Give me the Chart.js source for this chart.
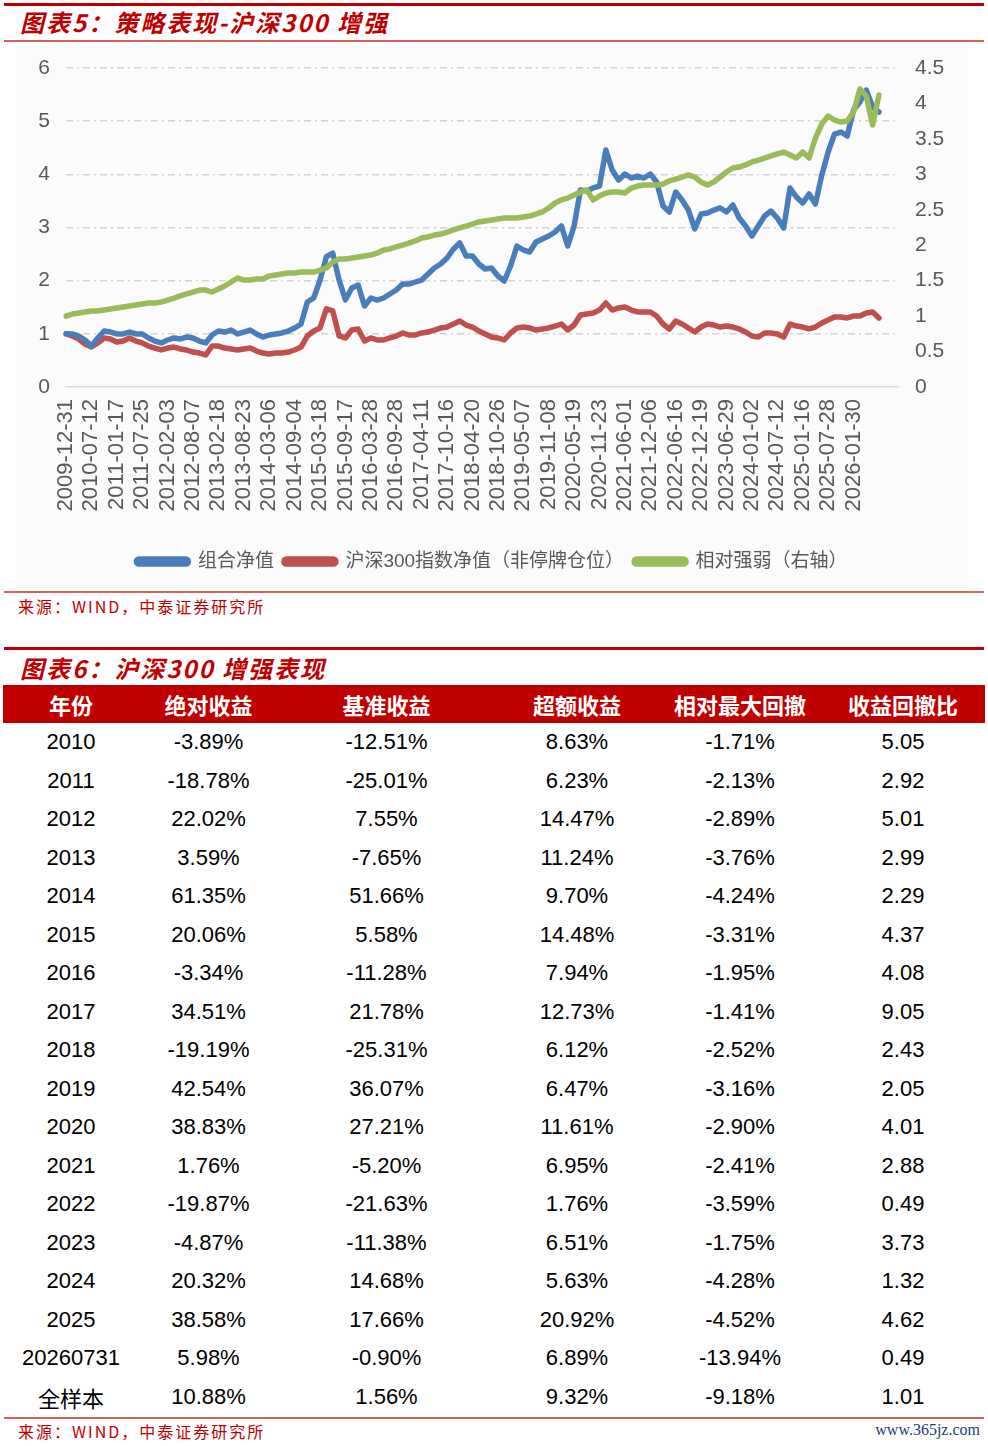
<!DOCTYPE html>
<html>
<head>
<meta charset="utf-8">
<script src="https://cdn.jsdelivr.net/npm/chart.js@4.4.1/dist/chart.umd.min.js"></script>
<style>
body { margin:0; background:#fff; font-family:'Liberation Sans','Noto Sans CJK SC',sans-serif; }
#pagina { position:relative; width:988px; height:1446px; overflow:hidden; }
.linea { position:absolute; left:4px; width:980px; }
.gruesa { height:3px; background:#c00000; }
.fina { height:2px; background:#d9605c; }
.titulo { position:absolute; left:20px; font-family:'Noto Sans CJK SC',sans-serif; font-weight:bold; font-style:italic; font-size:24px; color:#c00000; letter-spacing:2px; }
.fuente { position:absolute; left:18px; font-family:'Noto Sans CJK SC',sans-serif; font-size:16px; color:#c00000; letter-spacing:2px; }
#caja { position:absolute; left:16px; top:45px; width:952px; height:545px; background:#fbfbfb; }
#tabla { position:absolute; left:3px; top:685px; border-collapse:collapse; table-layout:fixed; }
#tabla th { background:#c00000; color:#fff; font-family:'Noto Sans CJK SC',sans-serif; font-weight:bold; font-size:22px; height:38px; padding:0; text-align:center; }
#tabla td { font-size:22px; color:#000; height:38.5px; padding:0; text-align:center; }
</style>
</head>
<body>
<div id="pagina">
  <div class="linea gruesa" style="top:3px"></div>
  <div class="titulo" style="top:4px">图表5：策略表现-沪深300 增强</div>
  <div class="linea fina" style="top:40px"></div>
  <div id="caja"><canvas id="myChart" width="952" height="545"></canvas></div>
  <div class="linea fina" style="top:591px"></div>
  <div class="fuente" style="top:594px">来源：WIND，中泰证券研究所</div>
  <div class="linea gruesa" style="top:647px"></div>
  <div class="titulo" style="top:650px">图表6：沪深300 增强表现</div>
  <table id="tabla"></table>
  <div class="linea fina" style="top:1417px"></div>
  <div class="fuente" style="top:1419px">来源：WIND，中泰证券研究所</div>
  <div style="position:absolute; right:8px; top:1421px; font-family:'Liberation Serif',serif; font-size:16px; color:#1f3a7a;">www.365jz.com</div>
</div>
<script>
//-----------------DATOS------------------
var tickDates = ['2009-12-31','2010-07-12','2011-01-17','2011-07-25','2012-02-03','2012-08-07','2013-02-18','2013-08-23',
    '2014-03-06','2014-09-04','2015-03-18','2015-09-17','2016-03-28','2016-09-28','2017-04-11','2017-10-16',
    '2018-04-20','2018-10-26','2019-05-07','2019-11-08','2020-05-19','2020-11-23','2021-06-01','2021-12-06',
    '2022-06-16','2022-12-19','2023-06-29','2024-01-02','2024-07-12','2025-01-16','2025-07-28','2026-01-30']

// 组合净值 (left axis)
var portfolio = [1.000,0.997,0.959,0.884,0.771,0.922,1.053,1.034,0.997,0.997,
    1.034,0.997,0.997,0.922,0.865,0.828,0.884,0.922,0.903,0.940,
    0.922,0.865,0.828,0.978,1.053,1.034,1.072,0.997,1.034,1.072,
    0.997,0.940,0.978,0.997,1.016,1.053,1.110,1.185,1.599,1.674,
    2.012,2.450,2.520,2.010,1.640,1.862,1.918,1.523,1.674,1.636,
    1.674,1.749,1.824,1.937,1.937,1.975,2.012,2.125,2.238,2.313,
    2.426,2.595,2.708,2.464,2.464,2.313,2.219,2.238,2.088,1.994,
    2.276,2.652,2.577,2.539,2.727,2.784,2.840,2.915,3.028,2.652,
    3.028,3.705,3.686,3.743,3.780,4.457,4.081,3.893,4.006,3.931,
    3.968,3.931,4.006,3.856,3.404,3.291,3.667,3.517,3.329,2.972,
    3.254,3.273,3.329,3.367,3.291,3.423,3.178,3.028,2.840,3.028,
    3.216,3.310,3.178,2.990,3.743,3.573,3.461,3.630,3.442,3.987,
    4.420,4.758,4.796,4.721,5.210,5.360,5.586,5.266,5.172]

// 沪深300指数净值 (left axis)
var benchmark = [1.000,0.959,0.903,0.809,0.752,0.828,0.922,0.903,0.846,0.865,
    0.922,0.865,0.828,0.771,0.733,0.696,0.733,0.752,0.715,0.696,
    0.658,0.639,0.602,0.771,0.771,0.733,0.715,0.696,0.715,0.733,
    0.677,0.639,0.621,0.639,0.639,0.658,0.696,0.752,0.959,1.053,
    1.110,1.470,1.430,0.960,0.922,1.072,1.091,0.865,0.922,0.884,
    0.884,0.922,0.959,1.016,0.978,0.978,1.016,1.034,1.072,1.110,
    1.128,1.185,1.241,1.166,1.128,1.053,0.997,0.940,0.922,0.884,
    1.016,1.110,1.128,1.110,1.072,1.091,1.110,1.147,1.185,1.072,
    1.166,1.354,1.373,1.392,1.448,1.580,1.448,1.486,1.505,1.448,
    1.411,1.411,1.411,1.335,1.185,1.091,1.241,1.185,1.110,1.034,
    1.128,1.185,1.166,1.128,1.147,1.128,1.091,1.034,0.959,0.940,
    1.016,1.016,0.997,0.940,1.185,1.147,1.128,1.091,1.128,1.204,
    1.260,1.317,1.317,1.298,1.335,1.335,1.392,1.411,1.298]

// 相对强弱 (right axis)
var relative = [1.000,1.030,1.044,1.058,1.072,1.072,1.086,1.100,1.114,1.129,
    1.143,1.157,1.171,1.185,1.185,1.199,1.227,1.255,1.284,1.312,
    1.340,1.368,1.368,1.340,1.382,1.425,1.481,1.538,1.509,1.509,
    1.523,1.523,1.566,1.580,1.594,1.608,1.608,1.622,1.622,1.622,
    1.650,1.679,1.763,1.806,1.806,1.820,1.834,1.848,1.862,1.890,
    1.933,1.947,1.975,2.003,2.031,2.060,2.102,2.116,2.144,2.158,
    2.186,2.215,2.243,2.271,2.299,2.328,2.342,2.356,2.370,2.384,
    2.384,2.384,2.398,2.412,2.440,2.469,2.525,2.596,2.638,2.666,
    2.708,2.751,2.779,2.638,2.694,2.737,2.751,2.751,2.737,2.807,
    2.835,2.850,2.850,2.850,2.864,2.906,2.934,2.962,2.991,2.962,
    2.892,2.850,2.892,2.962,3.033,3.089,3.103,3.132,3.174,3.202,
    3.230,3.259,3.287,3.315,3.273,3.230,3.315,3.230,3.512,3.710,
    3.823,3.766,3.738,3.752,3.879,4.204,4.105,3.696,4.119]

var seriesNames = ['组合净值','沪深300指数净值（非停牌仓位）','相对强弱（右轴）']

// tabla 6
var headers = ['年份','绝对收益','基准收益','超额收益','相对最大回撤','收益回撤比']
var years = ['2010','2011','2012','2013','2014','2015','2016','2017','2018','2019','2020','2021','2022','2023','2024','2025','20260731','全样本']
var absRet = ['-3.89%','-18.78%','22.02%','3.59%','61.35%','20.06%','-3.34%','34.51%','-19.19%','42.54%','38.83%','1.76%','-19.87%','-4.87%','20.32%','38.58%','5.98%','10.88%']
var benchRet = ['-12.51%','-25.01%','7.55%','-7.65%','51.66%','5.58%','-11.28%','21.78%','-25.31%','36.07%','27.21%','-5.20%','-21.63%','-11.38%','14.68%','17.66%','-0.90%','1.56%']
var excessRet = ['8.63%','6.23%','14.47%','11.24%','9.70%','14.48%','7.94%','12.73%','6.12%','6.47%','11.61%','6.95%','1.76%','6.51%','5.63%','20.92%','6.89%','9.32%']
var maxDD = ['-1.71%','-2.13%','-2.89%','-3.76%','-4.24%','-3.31%','-1.95%','-1.41%','-2.52%','-3.16%','-2.90%','-2.41%','-3.59%','-1.75%','-4.28%','-4.52%','-13.94%','-9.18%']
var ratio = ['5.05','2.92','5.01','2.99','2.29','4.37','4.08','9.05','2.43','2.05','4.01','2.88','0.49','3.73','1.32','4.62','0.49','1.01']
//-----------------FIN DATOS------------------

//-----------------FUNCIONES------------------
function build_labels(total){
    // one sample every quarter of a tick interval, tick text every 4th point
    var labels = []
    for (var i = 0; i < total; i++) {
        if (i % 4 == 0 && i / 4 < tickDates.length) {
            labels.push(tickDates[i / 4])
        } else {
            labels.push('')
        }
    }
    return labels
}

function build_table(){
    var tabla = document.getElementById('tabla')
    var widths = [136, 139, 217, 164, 162, 164]
    var html = '<colgroup>'
    for (var w = 0; w < widths.length; w++) html += '<col style="width:' + widths[w] + 'px">'
    html += '</colgroup><tr>'
    for (var h = 0; h < headers.length; h++) html += '<th>' + headers[h] + '</th>'
    html += '</tr>'
    for (var i = 0; i < years.length; i++) {
        html += '<tr><td>' + years[i] + '</td><td>' + absRet[i] + '</td><td>' + benchRet[i] + '</td><td>' +
            excessRet[i] + '</td><td>' + maxDD[i] + '</td><td>' + ratio[i] + '</td></tr>'
    }
    tabla.innerHTML = html
}

function create_chart(){
    var ctx = document.getElementById('myChart').getContext('2d')
    var font = "'Liberation Sans','Noto Sans CJK SC',sans-serif"
    var common = { borderWidth: 5.5, pointRadius: 0, tension: 0, fill: false, borderJoinStyle: 'round', borderCapStyle: 'round' }
    return new Chart(ctx, {
        type: 'line',
        data: {
            labels: build_labels(132),
            datasets: [
                Object.assign({ label: seriesNames[0], data: portfolio, borderColor: '#4a7ebb', backgroundColor: '#4a7ebb', yAxisID: 'y', order: 2 }, common),
                Object.assign({ label: seriesNames[1], data: benchmark, borderColor: '#c0504d', backgroundColor: '#c0504d', yAxisID: 'y', order: 3 }, common),
                Object.assign({ label: seriesNames[2], data: relative, borderColor: '#9bbb59', backgroundColor: '#9bbb59', yAxisID: 'y1', order: 1 }, common)
            ]
        },
        options: {
            responsive: false,
            animation: false,
            layout: { padding: { top: 23, bottom: 9, left: 0, right: 0 } },
            plugins: {
                tooltip: { enabled: false },
                legend: {
                    position: 'bottom',
                    labels: {
                        font: { size: 19, family: font },
                        color: '#595959',
                        boxWidth: 52,
                        boxHeight: 5,
                        padding: 10,
                        useBorderRadius: true,
                        borderRadius: 2.5,
                        sort: function(a, b){ return a.datasetIndex - b.datasetIndex }
                    }
                }
            },
            scales: {
                x: {
                    grid: { display: false, drawTicks: false },
                    border: { display: true, color: '#d9d9d9', width: 1.5 },
                    ticks: {
                        autoSkip: false,
                        minRotation: 90,
                        maxRotation: 90,
                        padding: 12,
                        color: '#595959',
                        font: { size: 22, family: font },
                        callback: function(value, index){ return this.getLabelForValue(value) }
                    },
                    afterFit: function(s){ s.height = 155 }
                },
                y: {
                    position: 'left',
                    min: 0, max: 6,
                    grid: {
                        drawTicks: true,
                        tickLength: 14,
                        tickColor: 'rgba(0,0,0,0)',
                        lineWidth: 1.5,
                        color: function(c){ return c.tick && c.tick.value == 0 ? 'rgba(0,0,0,0)' : '#d4d4d4' }
                    },
                    border: { display: false, dash: [7, 4, 2, 4] },
                    ticks: { stepSize: 1, padding: 2, color: '#595959', font: { size: 21, family: font } },
                    afterFit: function(s){ s.width = 50 }
                },
                y1: {
                    position: 'right',
                    min: 0, max: 4.5,
                    grid: { display: false, drawTicks: true, tickLength: 15 },
                    border: { display: false },
                    ticks: {
                        stepSize: 0.5, padding: 2, color: '#595959', font: { size: 21, family: font },
                        callback: function(v){ return String(Math.round(v * 10) / 10) }
                    },
                    afterFit: function(s){ s.width = 70 }
                }
            }
        }
    })
}
//-------------------- FIN FUNCIONES------------

build_table()
var myChart = create_chart()
</script>
</body>
</html>
